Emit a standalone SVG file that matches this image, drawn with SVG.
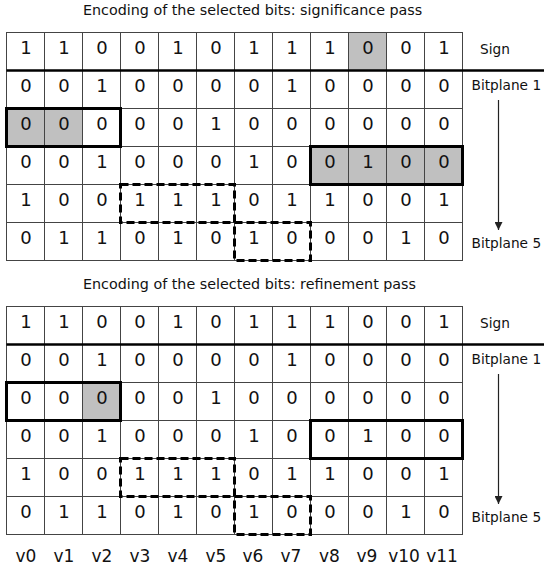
<svg xmlns="http://www.w3.org/2000/svg" width="544" height="569" viewBox="0 0 544 569">
<style>
  text { font-family: "DejaVu Sans", "Liberation Sans", sans-serif; fill: #111; }
  .title { font-size: 14.3px; }
  .d { font-size: 18px; text-anchor: middle; }
  .lbl { font-size: 13.7px; }
  .col { font-size: 17px; text-anchor: middle; }
  .cell { fill: #fff; stroke: #444; stroke-width: 1; }
  .gray { fill: #c0c0c0; stroke: #444; stroke-width: 1; }
  .thick { fill: none; stroke: #000; stroke-width: 3; }
  .dash { fill: none; stroke: #000; stroke-width: 3; stroke-dasharray: 8 4; }
  .sep { stroke: #000; stroke-width: 2.5; }
  .arr { stroke: #222; stroke-width: 1.2; }
</style>
<defs>
  <marker id="ah" markerWidth="8" markerHeight="8" refX="8" refY="4" orient="auto" markerUnits="userSpaceOnUse">
    <path d="M0,0 L8,4 L0,8 Z" fill="#222"/>
  </marker>
  <g id="gridlines">
    <rect class="cell" x="6.5" y="32.5" width="456" height="228"/>
    <path d="M44.5 32.5V260.5M82.5 32.5V260.5M120.5 32.5V260.5M158.5 32.5V260.5M196.5 32.5V260.5M234.5 32.5V260.5M272.5 32.5V260.5M310.5 32.5V260.5M348.5 32.5V260.5M386.5 32.5V260.5M424.5 32.5V260.5M6.5 108.5H462.5M6.5 146.5H462.5M6.5 184.5H462.5M6.5 222.5H462.5" stroke="#444" stroke-width="1" fill="none"/>
  </g>
  <g id="digits">
    <g class="d">
      <text x="26" y="54">1</text><text x="64" y="54">1</text><text x="102" y="54">0</text><text x="140" y="54">0</text><text x="178" y="54">1</text><text x="216" y="54">0</text><text x="254" y="54">1</text><text x="292" y="54">1</text><text x="330" y="54">1</text><text x="368" y="54">0</text><text x="406" y="54">0</text><text x="444" y="54">1</text>
      <text x="26" y="92">0</text><text x="64" y="92">0</text><text x="102" y="92">1</text><text x="140" y="92">0</text><text x="178" y="92">0</text><text x="216" y="92">0</text><text x="254" y="92">0</text><text x="292" y="92">1</text><text x="330" y="92">0</text><text x="368" y="92">0</text><text x="406" y="92">0</text><text x="444" y="92">0</text>
      <text x="26" y="130">0</text><text x="64" y="130">0</text><text x="102" y="130">0</text><text x="140" y="130">0</text><text x="178" y="130">0</text><text x="216" y="130">1</text><text x="254" y="130">0</text><text x="292" y="130">0</text><text x="330" y="130">0</text><text x="368" y="130">0</text><text x="406" y="130">0</text><text x="444" y="130">0</text>
      <text x="26" y="168">0</text><text x="64" y="168">0</text><text x="102" y="168">1</text><text x="140" y="168">0</text><text x="178" y="168">0</text><text x="216" y="168">0</text><text x="254" y="168">1</text><text x="292" y="168">0</text><text x="330" y="168">0</text><text x="368" y="168">1</text><text x="406" y="168">0</text><text x="444" y="168">0</text>
      <text x="26" y="206">1</text><text x="64" y="206">0</text><text x="102" y="206">0</text><text x="140" y="206">1</text><text x="178" y="206">1</text><text x="216" y="206">1</text><text x="254" y="206">0</text><text x="292" y="206">1</text><text x="330" y="206">1</text><text x="368" y="206">0</text><text x="406" y="206">0</text><text x="444" y="206">1</text>
      <text x="26" y="244">0</text><text x="64" y="244">1</text><text x="102" y="244">1</text><text x="140" y="244">0</text><text x="178" y="244">1</text><text x="216" y="244">0</text><text x="254" y="244">1</text><text x="292" y="244">0</text><text x="330" y="244">0</text><text x="368" y="244">0</text><text x="406" y="244">1</text><text x="444" y="244">0</text>
    </g>
  </g>
  <g id="side">
    <line class="sep" x1="6.5" y1="70.5" x2="544" y2="70.5"/>
    <text class="lbl" x="480" y="53.5">Sign</text>
    <text class="lbl" x="471.5" y="90">Bitplane 1</text>
    <text class="lbl" x="471.5" y="248">Bitplane 5</text>
    <line class="arr" x1="498.5" y1="100" x2="498.5" y2="230" marker-end="url(#ah)"/>
  </g>
</defs>

<text class="title" x="83" y="15">Encoding of the selected bits: significance pass</text>

<g id="significance-pass">
  <use href="#gridlines"/>
  <rect class="gray" x="348.5" y="32.5" width="38" height="38"/>
  <rect class="gray" x="6.5" y="108.5" width="76" height="38"/>
  <path d="M44.5 108.5V146.5" stroke="#444" stroke-width="1"/>
  <rect class="gray" x="310.5" y="146.5" width="152" height="38"/>
  <path d="M348.5 146.5V184.5M386.5 146.5V184.5M424.5 146.5V184.5" stroke="#444" stroke-width="1"/>
  <use href="#digits"/>
  <use href="#side"/>
  <g id="sig-boxes">
    <rect class="thick" x="6.5" y="108.5" width="114" height="38"/>
    <rect class="thick" x="310.5" y="146.5" width="152" height="38"/>
    <rect class="dash" x="120.5" y="184.5" width="114" height="38"/>
    <rect class="dash" x="234.5" y="222.5" width="76" height="38"/>
  </g>
</g>

<text class="title" x="83" y="289">Encoding of the selected bits: refinement pass</text>

<g id="refinement-pass" transform="translate(0,274)">
  <use href="#gridlines"/>
  <rect class="gray" x="82.5" y="108.5" width="38" height="38"/>
  <use href="#digits"/>
  <use href="#side"/>
  <g id="ref-boxes">
    <rect class="thick" x="6.5" y="108.5" width="114" height="38"/>
    <rect class="thick" x="310.5" y="146.5" width="152" height="38"/>
    <rect class="dash" x="120.5" y="184.5" width="114" height="38"/>
    <rect class="dash" x="234.5" y="222.5" width="76" height="38"/>
  </g>
</g>

<g id="column-labels" class="col">
  <text class="col" x="26" y="562">v0</text>
  <text class="col" x="64" y="562">v1</text>
  <text class="col" x="102" y="562">v2</text>
  <text class="col" x="140" y="562">v3</text>
  <text class="col" x="178" y="562">v4</text>
  <text class="col" x="216" y="562">v5</text>
  <text class="col" x="253" y="562">v6</text>
  <text class="col" x="291" y="562">v7</text>
  <text class="col" x="329.5" y="562">v8</text>
  <text class="col" x="367" y="562">v9</text>
  <text class="col" x="404" y="562">v10</text>
  <text class="col" x="442" y="562">v11</text>
</g>
</svg>
